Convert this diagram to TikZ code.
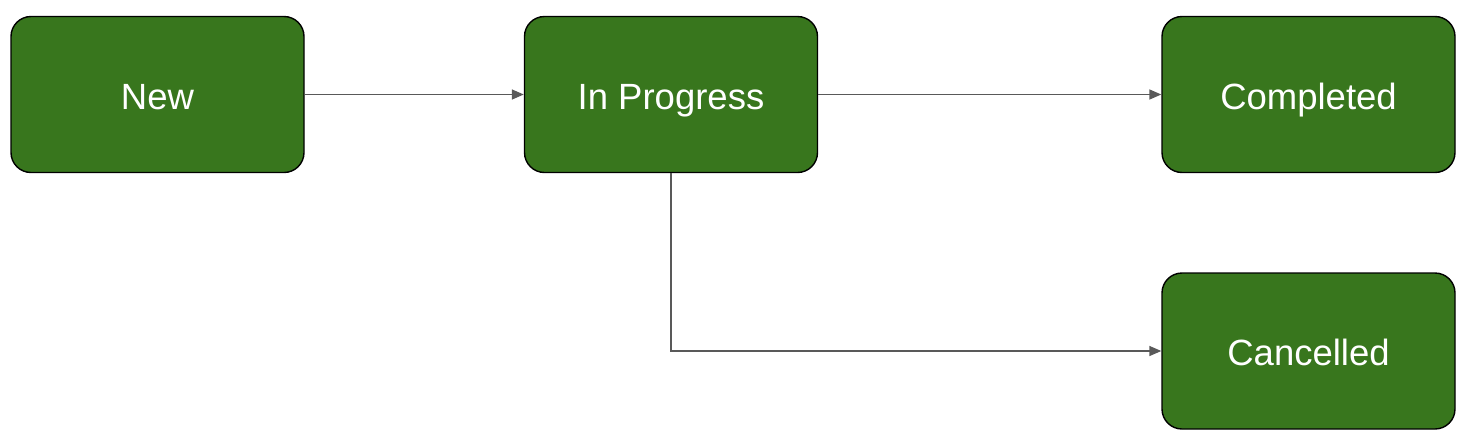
\documentclass[tikz,border=0pt]{standalone}
\usepackage{fontspec}
\setmainfont{Liberation Sans}
\usetikzlibrary{arrows.meta}
\definecolor{boxgreen}{HTML}{38761D}
\definecolor{linegray}{HTML}{595959}
\begin{document}
\begin{tikzpicture}[x=1pt,y=-1pt,
  state/.style={draw=black, line width=1.4pt, fill=boxgreen, rounded corners=20pt,
    minimum width=293pt, minimum height=156pt, inner sep=0pt, text=white,
    text height=29pt, text depth=0pt,
    font=\fontsize{36.5}{42}\selectfont},
  conn/.style={draw=linegray, line width=1.5pt, -{Triangle[length=12pt,width=10pt]}}]
\useasboundingbox (0,0) rectangle (1469,445);
\node[state] (new) at (157.5,94.5) {New};
\node[state] (prog) at (671,94.5) {In Progress};
\node[state] (done) at (1308.5,94.5) {Completed};
\node[state] (canc) at (1308.5,351) {Cancelled};
\draw[conn] (new) -- (prog);
\draw[conn] (prog) -- (done);
\draw[conn] (prog.south) |- (canc.west);
\end{tikzpicture}
\end{document}
